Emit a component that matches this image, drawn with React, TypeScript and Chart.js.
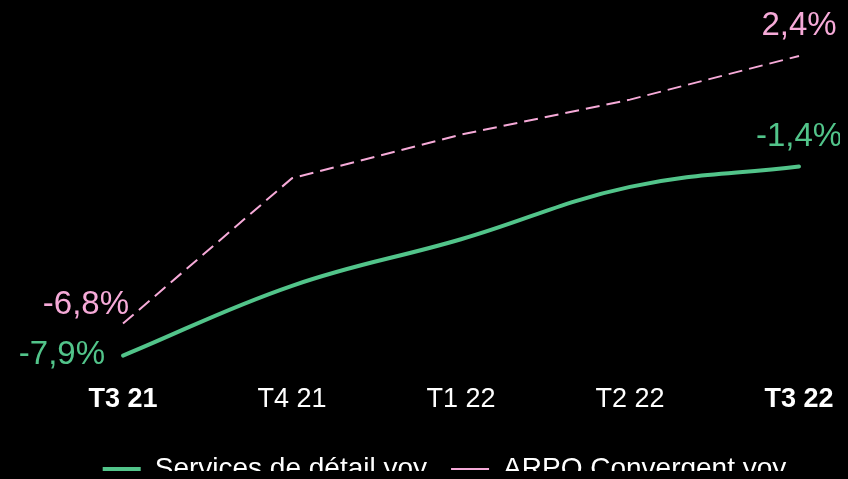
import React, { useEffect, useRef } from "react";
import { Chart, registerables } from "chart.js";

Chart.register(...registerables);

const categories = ["T3 21", "T4 21", "T1 22", "T2 22", "T3 22"];
const servicesValues = [-7.9, -5.5, -3.9, -2.1, -1.4];
const arpoValues = [-6.8, -1.8, -0.3, 0.9, 2.4];
const seriesNames = ["Services de détail yoy", "ARPO Convergent yoy"];
const boldTicks = ["T3 21", "T3 22"];

const GREEN = "rgb(82, 196, 138)";
const PINK = "rgb(246, 170, 216)";
const FONT = "'Liberation Sans', Arial, Helvetica, sans-serif";

const fmt = (v: number) => v.toFixed(1).replace(".", ",") + "%";

// label placement per dataset: [first point, last point]
const labelPlacement: any = {
  0: {
    first: { dx: -18, dy: -1, align: "right" },
    last: { dx: 0, dy: -30, align: "center" },
  },
  1: {
    first: { dx: 6, dy: -19, align: "right" },
    last: { dx: 0, dy: -30, align: "center" },
  },
};

const endLabels = {
  id: "endLabels",
  afterDatasetsDraw(chart: any) {
    const ctx = chart.ctx;
    chart.data.datasets.forEach((ds: any, di: number) => {
      const meta = chart.getDatasetMeta(di);
      const pts = meta.data;
      const place = labelPlacement[di];
      const items = [
        { p: pts[0], v: ds.data[0], c: place.first },
        { p: pts[pts.length - 1], v: ds.data[ds.data.length - 1], c: place.last },
      ];
      ctx.save();
      ctx.font = `33px ${FONT}`;
      ctx.fillStyle = ds.borderColor;
      ctx.textBaseline = "middle";
      items.forEach((it) => {
        ctx.textAlign = it.c.align;
        ctx.fillText(fmt(it.v), it.p.x + it.c.dx, it.p.y + it.c.dy);
      });
      ctx.restore();
    });
  },
};

export default function App() {
  const ref = useRef<HTMLCanvasElement | null>(null);

  useEffect(() => {
    if (!ref.current) return;
    document.documentElement.style.overflow = "hidden";
    document.body.style.overflow = "hidden";
    document.body.style.background = "#000";
    const chart = new Chart(ref.current, {
      type: "line",
      data: {
        labels: categories,
        datasets: [
          {
            label: seriesNames[0],
            data: servicesValues,
            borderColor: GREEN,
            backgroundColor: GREEN,
            borderWidth: 4,
            tension: 0.4,
            pointRadius: 0,
            borderCapStyle: "round",
            clip: false as any,
          },
          {
            label: seriesNames[1],
            data: arpoValues,
            borderColor: PINK,
            backgroundColor: PINK,
            borderWidth: 2,
            borderDash: [14, 7],
            tension: 0,
            pointRadius: 0,
            clip: false as any,
          },
        ],
      },
      options: {
        animation: false,
        responsive: true,
        maintainAspectRatio: false,
        layout: { padding: { top: 48, left: 41, right: 0, bottom: 0 } },
        scales: {
          x: {
            grid: { display: false, drawTicks: true, tickLength: 23 },
            border: { display: false },
            ticks: {
              color: "#fff",
              padding: 5,
              font: (ctx: any) => ({
                family: FONT,
                size: 27,
                weight: boldTicks.includes(categories[ctx.index]) ? "bold" : "normal",
              }),
            },
            afterFit: (scale: any) => {
              scale.height += 10;
            },
          },
          y: {
            min: -7.9,
            max: 2.4,
            grid: { display: false, drawTicks: false },
            border: { display: false },
            ticks: { display: false },
            afterFit: (scale: any) => {
              scale.width = 74;
            },
          },
          yRight: {
            position: "right",
            min: -7.9,
            max: 2.4,
            grid: { display: false, drawTicks: false },
            border: { display: false },
            ticks: { display: false },
            afterFit: (scale: any) => {
              scale.width = 41;
            },
          },
        },
        plugins: {
          legend: {
            position: "bottom",
            labels: {
              color: "#fff",
              usePointStyle: true,
              pointStyle: "line",
              pointStyleWidth: 38,
              padding: 24,
              font: { family: FONT, size: 28 },
              generateLabels: (c: any) => {
                const items = Chart.defaults.plugins.legend.labels.generateLabels(c);
                items.forEach((it: any) => {
                  if (it.lineDash && it.lineDash.length) it.lineDash = [18, 3];
                });
                return items;
              },
            },
          },
          tooltip: { enabled: false },
        },
      },
      plugins: [endLabels],
    });
    return () => chart.destroy();
  }, []);

  return (
    <div style={{ width: "100%", height: 471, marginBottom: -8, overflow: "hidden", background: "#000" }}>
      <div style={{ position: "relative", width: "100%", height: 485 }}>
        <canvas ref={ref} />
      </div>
    </div>
  );
}
